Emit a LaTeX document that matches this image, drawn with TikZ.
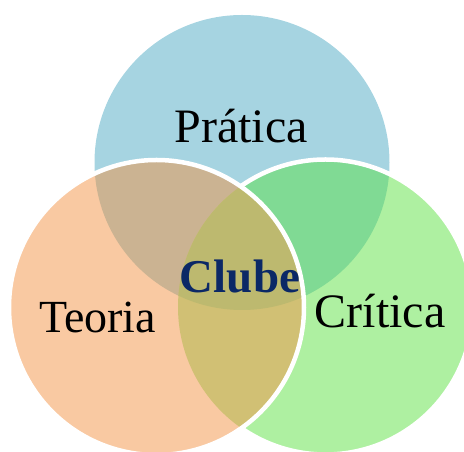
\documentclass[tikz,border=0pt]{standalone}
\usepackage{fontspec}
\setmainfont{Liberation Serif}
\definecolor{cblue}{HTML}{A6D4E1}
\definecolor{corange}{HTML}{F9C9A2}
\definecolor{cgreen}{HTML}{AEF0A1}
\definecolor{ctan}{HTML}{CBB392}
\definecolor{cdgreen}{HTML}{80DA94}
\definecolor{colive}{HTML}{D1C074}
\definecolor{ccenter}{HTML}{BDB96F}
\definecolor{cnavy}{HTML}{0B2866}
\begin{document}
\begin{tikzpicture}[x=1pt,y=1pt,
  lbl/.style={anchor=base,inner sep=0pt,font=\fontsize{48}{50}\selectfont},
  rim/.style={draw=white,line width=4.5pt}]
\useasboundingbox (0,0) rectangle (464,452);
\clip (0,0) rectangle (464,452);
\def\T{(242,289.5) circle (147.5)}
\def\L{(156.5,144.5) circle (147.5)}
\def\R{(325.5,145) circle (147.5)}
% top circle
\fill[cblue] \T;
% right circle
\fill[cgreen] \R;
\begin{scope}\clip \T; \fill[cdgreen] \R; \end{scope}
\draw[rim] \R;
% left circle
\fill[corange] \L;
\begin{scope}\clip \L; \fill[ctan] \T; \end{scope}
\begin{scope}\clip \L; \fill[colive] \R; \end{scope}
\begin{scope}\clip \L; \clip \R; \fill[ccenter] \T; \end{scope}
\draw[rim] \L;
% labels
\node[lbl] (pratica) at (241,309) {Prática};
\node[lbl,font=\fontsize{46}{50}\selectfont] (teoria) at (97.5,119) {Teoria};
\node[lbl] (critica) at (380,124) {Crítica};
\node[lbl,font=\fontsize{47}{50}\selectfont\bfseries,text=cnavy] (clube) at (240,159) {Clube};
\end{tikzpicture}
\end{document}
